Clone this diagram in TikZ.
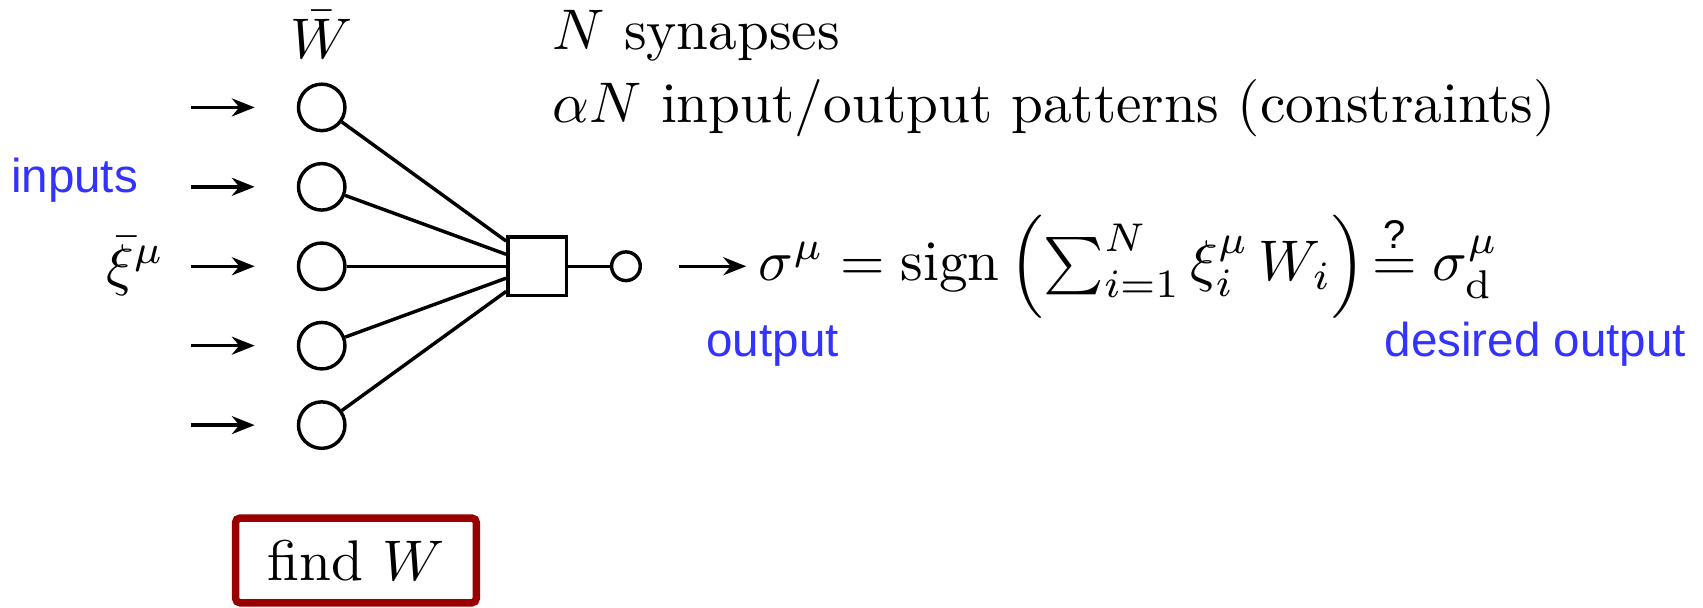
\documentclass[tikz,border=0pt]{standalone}
\usepackage{amsmath,amssymb}
\usepackage{fontspec}
\newfontfamily\labelfont{Liberation Sans}
\usepackage{xcolor}
\usepackage{tikz}
\usetikzlibrary{arrows.meta,positioning}

\definecolor{lblblue}{RGB}{51,51,255}
\definecolor{boxred}{RGB}{153,0,0}

\begin{document}
\begin{tikzpicture}[
  node distance=1.81mm,
  neuron/.style={circle,draw,semithick,minimum size=2.85mm,inner sep=0},
  sumbox/.style={rectangle,draw,semithick,minimum size=3.6mm,inner sep=0},
  outunit/.style={circle,draw,semithick,minimum size=1.76mm,inner sep=0},
  lbl/.style={text=lblblue,font=\labelfont\fontsize{8.3pt}{10pt}\selectfont,inner sep=0},
  findbox/.style={rectangle,rounded corners=0.8pt,draw=boxred,line width=1.3pt,minimum width=14.77mm,minimum height=5.2mm,inner sep=0},
  arr/.style={-{Stealth[length=1.4mm,width=1.1mm]},semithick},
  wire/.style={semithick}
]
\useasboundingbox (-19.73mm,-20.9mm) rectangle (84.71mm,16.33mm);

% input layer
\node[neuron] (c3) at (0,0) {};
\node[neuron,above=of c3] (c2) {};
\node[neuron,above=of c2] (c1) {};
\node[neuron,below=of c3] (c4) {};
\node[neuron,below=of c4] (c5) {};
\node[sumbox,right=9.78mm of c3] (sq) {};
\node[outunit,right=2.55mm of sq] (o) {};
\node[right=6.39mm of o,inner sep=0.7mm] (sig) {$\sigma^\mu = \mathrm{sign}\,\Big(\!\sum_{i=1}^N \xi_i^\mu\, W_i\Big)\! \stackrel{\text{\labelfont ?}}{=} \sigma^\mu_{\mathrm{d}}$};

\coordinate[left=6.47mm of c1] (a1);
\coordinate[left=6.47mm of c2] (a2);
\coordinate[left=6.47mm of c3] (a3);
\coordinate[left=6.47mm of c4] (a4);
\coordinate[left=6.47mm of c5] (a5);

% labels
\node[above=1.41mm of c1,inner sep=0] (wbar) {$\bar W$};
\node[left=1.56mm of a3,inner sep=0] (xi) {$\bar\xi^\mu$};
\node[lbl,anchor=base east] (inlbl) at (-11.2mm,4.5mm) {inputs};
\node[anchor=base west,inner sep=0] (syn) at (14.1mm,13.27mm) {$N$ synapses};
\node[anchor=base west,inner sep=0] (pat) at (14.1mm,8.79mm) {$\alpha N$ input/output patterns (constraints)};
\node[lbl,anchor=base] (outlbl) at (27.65mm,-5.56mm) {output};
\node[lbl,anchor=base east] (deslbl) at (83.74mm,-5.56mm) {desired output};
\node[findbox,below=3.94mm of c5,xshift=2.1mm] (find) {find $W$};

\draw[arr,shorten >=2.58mm] (a1) -- (c1);
\draw[arr,shorten >=2.58mm] (a2) -- (c2);
\draw[arr,shorten >=2.58mm] (a3) -- (c3);
\draw[arr,shorten >=2.58mm] (a4) -- (c4);
\draw[arr,shorten >=2.58mm] (a5) -- (c5);

\draw[wire] (c1) -- (sq.141);
\draw[wire] (c2) -- (sq.159);
\draw[wire] (c3) -- (sq.180);
\draw[wire] (c4) -- (sq.201);
\draw[wire] (c5) -- (sq.219);
\draw[wire] (sq) -- (o);
\draw[arr,shorten <=2.28mm] (o) -- (sig);
\end{tikzpicture}
\end{document}
